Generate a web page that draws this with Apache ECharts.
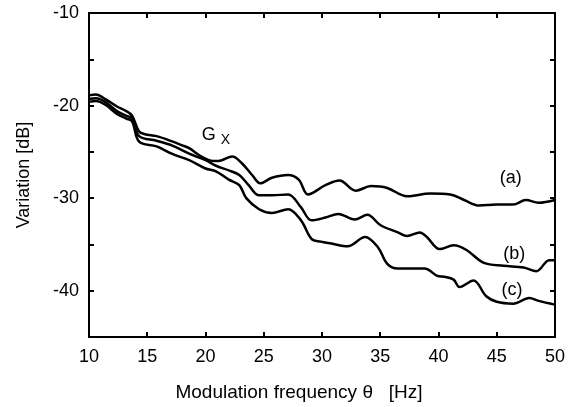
<!DOCTYPE html>
<html>
<head>
<meta charset="utf-8">
<script src="https://cdn.jsdelivr.net/npm/echarts@6/dist/echarts.min.js"></script>
<style>html,body{margin:0;padding:0;background:#fff}#c{width:568px;height:407px}</style>
</head>
<body>
<div id="c"></div>
<script>
// Curve (a)
const freqA = [10,10.6,11.4,12.4,13.2,13.7,14.3,14.8,15.8,17.2,18.0,18.6,19.5,20.3,20.9,21.4,22.3,23.1,24.0,24.7,25.7,27.1,28.0,28.8,30.3,31.5,32.9,34.2,35.6,37.3,39.3,41.0,42.2,43.5,45.0,46.4,47.5,48.6,50];
const varA  = [-18.9,-18.8,-19.3,-20.1,-20.6,-21.1,-22.8,-23.1,-23.3,-23.9,-24.3,-24.6,-25.4,-25.9,-26.0,-25.9,-25.5,-26.2,-27.5,-28.4,-27.8,-27.5,-28.0,-29.6,-28.6,-28.1,-29.2,-28.7,-28.9,-29.8,-29.5,-29.6,-30.2,-30.8,-30.7,-30.7,-30.2,-30.5,-30.2];
// Curve (b)
const freqB = [10,10.6,11.4,12.4,13.2,13.7,14.3,15.8,17.1,18.6,20.0,20.9,22.0,22.9,23.7,24.6,25.7,27.1,28.2,29.1,30.3,31.4,32.8,33.9,35.0,36.5,37.3,38.4,39.0,40.1,41.3,42.4,43.9,45.6,47.3,48.4,49.5,50];
const varB  = [-19.3,-19.2,-19.6,-20.6,-21.1,-21.4,-23.3,-23.8,-24.3,-25.2,-25.9,-26.5,-27.0,-27.5,-28.6,-29.7,-29.7,-29.6,-31.0,-32.4,-32.1,-31.7,-32.3,-31.8,-32.9,-33.7,-34.1,-33.7,-34.2,-35.5,-35.1,-35.6,-37.0,-37.3,-37.5,-37.9,-36.7,-36.7];
// Curve (c)
const freqC = [10,10.6,11.4,12.4,13.2,13.7,14.3,15.8,17.1,18.6,20.0,20.9,22.0,22.9,23.5,24.6,25.7,27.1,28.2,29.1,29.9,30.8,32.2,33.7,34.8,35.6,36.5,38.8,39.9,40.5,41.3,41.8,43.0,44.1,45.0,46.4,47.8,48.6,50];
const varC  = [-19.6,-19.5,-19.9,-20.9,-21.4,-21.7,-23.9,-24.4,-25.2,-25.9,-26.8,-27.1,-28.0,-28.6,-30.0,-31.2,-31.6,-31.2,-32.4,-34.4,-34.7,-34.9,-35.2,-34.2,-35.3,-37.1,-37.6,-37.6,-38.4,-38.5,-38.8,-39.6,-38.9,-40.6,-41.2,-41.4,-40.8,-41.1,-41.5];
// Axis settings
const xTicks = [10,15,20,25,30,35,40,45,50];
const yTickLabels = [-10,-20,-30,-40];
// Annotations: [text, freq, dB]
const curveLabels = [["(a)",46.2,-27.8],["(b)",46.5,-36.0],["(c)",46.3,-39.9]];
const gxLabel = [20.9,-23.2];

const FONT = '"Liberation Sans", Arial, Helvetica, sans-serif';
const zip = (xs, ys) => xs.map((x,i)=>[x, ys[i]]);
const lineSeries = (name, data) => ({
  name, type:'line', data, smooth:0.35, showSymbol:false, symbol:'none',
  lineStyle:{color:'#000', width:2.5}, xAxisIndex:0, yAxisIndex:0, animation:false
});
const axisCommon = {
  axisLine:{show:true, lineStyle:{color:'#000', width:2}},
  axisTick:{show:true, inside:true, length:5, lineStyle:{color:'#000', width:2}},
  splitLine:{show:false}
};
const chart = echarts.init(document.getElementById('c'), null, {renderer:'canvas'});
chart.setOption({
  animation:false,
  backgroundColor:'#fff',
  grid:{left:89, right:9, top:13, bottom:66, containLabel:false},
  xAxis:[
    Object.assign({type:'value', min:xTicks[0], max:xTicks[xTicks.length-1], interval:5, position:'bottom',
      name:'Modulation frequency \u03B8   [Hz]', nameLocation:'middle', nameGap:46,
      nameTextStyle:{fontFamily:FONT, fontSize:19, color:'#000', padding:[0,46,0,0]},
      axisLabel:{fontFamily:FONT, fontSize:18, color:'#000', margin:11}}, axisCommon),
    Object.assign({type:'value', min:xTicks[0], max:xTicks[xTicks.length-1], interval:5, position:'top',
      axisLabel:{show:false}}, axisCommon)
  ],
  yAxis:[
    Object.assign({type:'value', min:-45, max:-10, interval:5, position:'left',
      name:'Variation [dB]', nameLocation:'middle', nameGap:56, nameRotate:90,
      nameTextStyle:{fontFamily:FONT, fontSize:18, color:'#000'},
      axisLabel:{fontFamily:FONT, fontSize:18, color:'#000', margin:10, padding:[6,0,0,0],
        formatter:v => yTickLabels.includes(v) ? String(v) : ''}}, axisCommon),
    Object.assign({type:'value', min:-45, max:-10, interval:5, position:'right',
      axisLabel:{show:false}}, axisCommon)
  ],
  series:[
    lineSeries('(a)', zip(freqA, varA)),
    lineSeries('(b)', zip(freqB, varB)),
    lineSeries('(c)', zip(freqC, varC))
  ]
});
const els = curveLabels.map(([t,x,y]) => {
  const p = chart.convertToPixel({gridIndex:0}, [x,y]);
  return {type:'text', x:p[0], y:p[1], style:{text:t, font:'18px '+FONT, fill:'#000', textAlign:'center', textVerticalAlign:'middle'}};
});
const g = chart.convertToPixel({gridIndex:0}, gxLabel);
els.push({type:'text', x:g[0], y:g[1], style:{
  text:'{g|G}{s|X}', textAlign:'center', textVerticalAlign:'middle',
  rich:{g:{fontFamily:FONT, fontSize:18, color:'#000'}, s:{fontFamily:FONT, fontSize:14, color:'#000', padding:[10,0,0,5]}}
}});
chart.setOption({graphic:{elements:els}});
</script>
</body>
</html>
